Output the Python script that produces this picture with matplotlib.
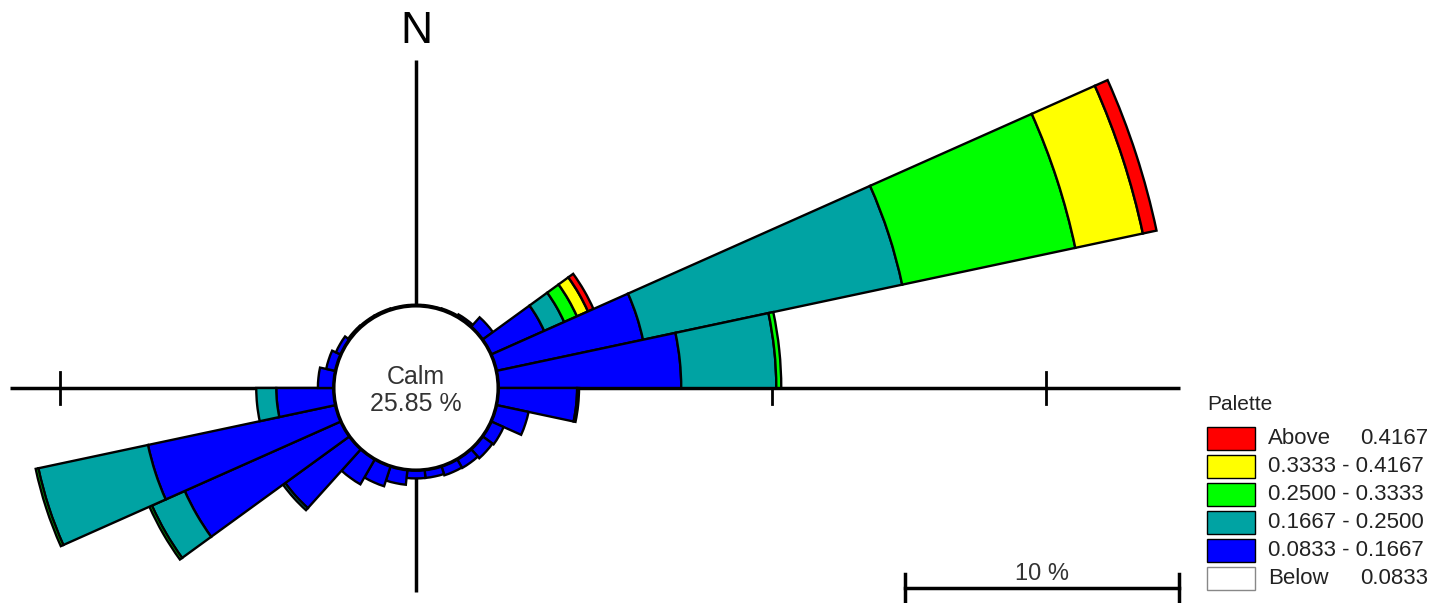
import numpy as np
import matplotlib
matplotlib.use('Agg')
import matplotlib.pyplot as plt
from matplotlib.patches import Wedge, Circle, Rectangle

plt.rcParams['font.family'] = ['Liberation Sans', 'DejaVu Sans']

# wind rose: 30 sectors of 12 degrees, frequencies in %
directions = np.arange(0, 360, 12)
blue = [0.04, 0.04, 0.05, 0.10, 0.47, 2.12, 5.47, 6.68, 2.88, 1.20,
        0.50, 0.45, 0.37, 0.35, 0.30, 0.30, 0.55, 0.77, 1.06, 2.90,
        6.24, 7.00, 2.10, 0.58, 0.35, 0.20, 0.06, 0.05, 0.05, 0.04]
teal = [0, 0, 0, 0, 0, 0.80, 9.67, 3.47, 0.07, 0,
        0, 0, 0, 0, 0, 0, 0, 0, 0, 0.10,
        1.31, 4.09, 0.73, 0, 0, 0, 0, 0, 0, 0]
green = [0, 0, 0, 0, 0, 0.51, 6.46, 0.18, 0, 0,
         0, 0, 0, 0, 0, 0, 0, 0, 0, 0,
         0.10, 0.10, 0, 0, 0, 0, 0, 0, 0, 0]
yellow = [0, 0, 0, 0, 0, 0.44, 2.52, 0, 0, 0,
          0, 0, 0, 0, 0, 0, 0, 0, 0, 0,
          0, 0, 0, 0, 0, 0, 0, 0, 0, 0]
red = [0, 0, 0, 0, 0, 0.22, 0.51, 0, 0, 0,
       0, 0, 0, 0, 0, 0, 0, 0, 0, 0,
       0, 0, 0, 0, 0, 0, 0, 0, 0, 0]
calm = 25.85

palette_colors = ['#ff0000', '#ffff00', '#00ff00', '#00a3a3', '#0000ff', '#ffffff']
palette_left = ['Above', '0.3333 - 0.4167', '0.2500 - 0.3333',
                '0.1667 - 0.2500', '0.0833 - 0.1667', 'Below']
palette_right = ['0.4167', '', '', '', '', '0.0833']

PX = 27.4          # pixels per 1 %
CX, CY = 416, 388  # rose centre in pixels
R0 = 3.0           # calm circle radius (in % units)
W, H = 1443, 603


def px(x, y):
    # pixel position -> data coords
    return (x - CX) / PX, (CY - y) / PX


fig = plt.figure(figsize=(W / 100, H / 100), dpi=100)
ax = fig.add_axes([0, 0, 1, 1])
ax.set_xlim(-CX / PX, (W - CX) / PX)
ax.set_ylim(-(H - CY) / PX, CY / PX)
ax.set_axis_off()

# cross and ticks
x0, _ = px(10, 0)
x1, _ = px(1180, 0)
_, y0 = px(0, 60)
_, y1 = px(0, 592)
ax.plot([x0, x1], [0, 0], color='black', lw=2.5, zorder=1, solid_capstyle='butt')
ax.plot([0, 0], [y0, y1], color='black', lw=2.5, zorder=1, solid_capstyle='butt')
for t in [-(R0 + 10), R0 + 10, R0 + 20]:
    ax.plot([t, t], [-0.6, 0.6], color='black', lw=2, zorder=1)

# sectors
bands = [blue, teal, green, yellow, red]
band_colors = ['#0000ff', '#00a3a3', '#00ff00', '#ffff00', '#ff0000']
for i, d in enumerate(directions):
    r = R0
    for vals, col in zip(bands, band_colors):
        v = vals[i]
        if v <= 0:
            continue
        ang = 90 - d
        ax.add_patch(Wedge((0, 0), r + v, ang - 6, ang + 6, width=v,
                           facecolor=col, edgecolor='black', lw=1.7, zorder=3))
        r += v

ax.add_patch(Circle((0, 0), R0, facecolor='white', edgecolor='black', lw=2.5, zorder=5))
ax.text(*px(416, 377), 'Calm', ha='center', va='center', fontsize=18, color='#333333', zorder=6)
ax.text(*px(416, 404), '%.2f %%' % calm, ha='center', va='center', fontsize=18,
        color='#333333', zorder=6)

ax.text(*px(416, 32), 'N', ha='center', va='center', fontsize=32, color='black')

# scale bar
sx, sy = px(905, 588)
ax.plot([sx, sx + 10], [sy, sy], color='black', lw=2.5)
for e in [sx, sx + 10]:
    ax.plot([e, e], [sy - 0.55, sy + 0.5], color='black', lw=2.5)
ax.text(sx + 5, sy + 0.12, '10 %', ha='center', va='bottom', fontsize=17, color='#333333')

# palette legend
ax.text(*px(1207, 404), 'Palette', ha='left', va='center', fontsize=15, color='#222222')
for k, (col, lt, rt) in enumerate(zip(palette_colors, palette_left, palette_right)):
    ytop = 427 + 28 * k
    bx, by = px(1207, ytop + 23)
    ec = '#888888' if col == '#ffffff' else 'black'
    ax.add_patch(Rectangle((bx, by), 48 / PX, 23 / PX, facecolor=col, edgecolor=ec, lw=1))
    ax.text(*px(1268, ytop + 12), lt, ha='left', va='center', fontsize=16, color='#222222')
    if rt:
        ax.text(*px(1428, ytop + 12), rt, ha='right', va='center', fontsize=16, color='#222222')

fig.savefig('out.png', dpi=100)
